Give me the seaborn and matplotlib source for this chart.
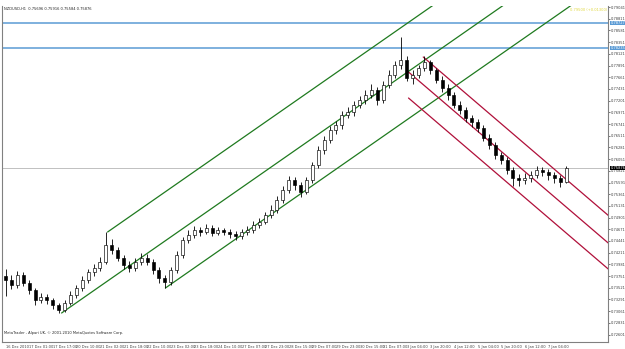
import numpy as np
import pandas as pd
import matplotlib
matplotlib.use("Agg")
import matplotlib.pyplot as plt
import seaborn as sns

# ---- data (H4 bars, NZDUSD) ----
closes = [0.7368, 0.7358, 0.7377, 0.7362, 0.7348, 0.7328, 0.7334, 0.7328, 0.7318, 0.7309,
          0.7322, 0.7338, 0.7352, 0.7368, 0.7383, 0.7391, 0.7403, 0.7436, 0.7426, 0.7411,
          0.7397, 0.7391, 0.7403, 0.7411, 0.7403, 0.7387, 0.7371, 0.7364, 0.7387, 0.7417,
          0.7446, 0.7456, 0.7466, 0.7462, 0.7470, 0.7460, 0.7466, 0.7462, 0.7458, 0.7454,
          0.7462, 0.7466, 0.7476, 0.7482, 0.7495, 0.7505, 0.7525, 0.7544, 0.7564, 0.7554,
          0.7541, 0.7564, 0.7594, 0.7623, 0.7643, 0.7662, 0.7672, 0.7692, 0.7698, 0.7712,
          0.7721, 0.7731, 0.7741, 0.7721, 0.7751, 0.7771, 0.7790, 0.7800, 0.7765, 0.7771,
          0.7784, 0.7796, 0.7780, 0.7761, 0.7745, 0.7731, 0.7712, 0.7702, 0.7686, 0.7678,
          0.7666, 0.7647, 0.7633, 0.7613, 0.7603, 0.7584, 0.7568, 0.7564, 0.7568, 0.7574,
          0.7584, 0.7580, 0.7574, 0.7568, 0.7560, 0.75876]
highs = [0.7390, 0.7378, 0.7385, 0.7383, 0.7368, 0.7352, 0.7342, 0.7340, 0.7332, 0.7322,
         0.7328, 0.7345, 0.7358, 0.7375, 0.7390, 0.7398, 0.7412, 0.7462, 0.7448, 0.7432,
         0.7416, 0.7405, 0.7410, 0.7420, 0.7418, 0.7408, 0.7392, 0.7378, 0.7393, 0.7424,
         0.7452, 0.7465, 0.7474, 0.7472, 0.7478, 0.7475, 0.7472, 0.7470, 0.7468, 0.7463,
         0.7468, 0.7473, 0.7483, 0.7490, 0.7502, 0.7514, 0.7532, 0.7552, 0.7572, 0.7570,
         0.7560, 0.7570, 0.7600, 0.7630, 0.7650, 0.7670, 0.7680, 0.7700, 0.7708, 0.7720,
         0.7730, 0.7740, 0.7752, 0.7746, 0.7758, 0.7780, 0.7798, 0.7845, 0.7808, 0.7780,
         0.7790, 0.7808, 0.7800, 0.7785, 0.7768, 0.7752, 0.7738, 0.7720, 0.7708, 0.7692,
         0.7684, 0.7672, 0.7654, 0.7638, 0.7620, 0.7610, 0.7590, 0.7576, 0.7578, 0.7582,
         0.7592, 0.7590, 0.7586, 0.7580, 0.7574, 0.75916]
lows = [0.7335, 0.7350, 0.7352, 0.7355, 0.7340, 0.7318, 0.7322, 0.7320, 0.7310, 0.7303,
        0.7305, 0.7318, 0.7332, 0.7346, 0.7362, 0.7376, 0.7385, 0.7398, 0.7418, 0.7404,
        0.7390, 0.7383, 0.7385, 0.7396, 0.7396, 0.7380, 0.7362, 0.7352, 0.7358, 0.7382,
        0.7410, 0.7440, 0.7450, 0.7454, 0.7457, 0.7453, 0.7455, 0.7455, 0.7450, 0.7447,
        0.7449, 0.7456, 0.7460, 0.7470, 0.7477, 0.7490, 0.7500, 0.7518, 0.7538, 0.7545,
        0.7530, 0.7536, 0.7558, 0.7588, 0.7615, 0.7636, 0.7655, 0.7665, 0.7685, 0.7690,
        0.7705, 0.7714, 0.7725, 0.7712, 0.7716, 0.7744, 0.7765, 0.7782, 0.7758, 0.7752,
        0.7765, 0.7778, 0.7772, 0.7755, 0.7738, 0.7722, 0.7705, 0.7693, 0.7678, 0.7668,
        0.7658, 0.7640, 0.7625, 0.7605, 0.7595, 0.7576, 0.7552, 0.7553, 0.7556, 0.7560,
        0.7568, 0.7572, 0.7565, 0.7558, 0.7550, 0.75584]
first_open = 0.7375

time_labels = ["16 Dec 2010", "17 Dec 01:00", "17 Dec 17:00", "20 Dec 10:00", "21 Dec 02:00",
               "21 Dec 18:00", "22 Dec 10:00", "23 Dec 02:00", "23 Dec 18:00", "24 Dec 10:00",
               "27 Dec 07:00", "27 Dec 23:00", "28 Dec 15:00", "29 Dec 07:00", "29 Dec 23:00",
               "30 Dec 15:00", "31 Dec 07:00", "3 Jan 04:00", "3 Jan 20:00", "4 Jan 12:00",
               "5 Jan 04:00", "5 Jan 20:00", "6 Jan 12:00", "7 Jan 04:00"]
bars_per_label = 4

# horizontal levels
blue_levels = [0.78727, 0.78235]
last_price = 0.75876

# channel lines: start bar, start price, slope per bar
green_start_bar = [17.3, 9.5, 27.1]
green_start_price = [0.74618, 0.73025, 0.73517]
green_slope = 0.000808
red_start_bar = [70.8, 68.3, 68.3]
red_start_price = [0.78058, 0.77763, 0.77252]
red_slope = -0.000993

title = "NZDUSD,H1  0.75696 0.75916 0.75584 0.75876"
footer = "MetaTrader - Alpari UK, \u00a9 2001-2010 MetaQuotes Software Corp."

# ---- frame ----
df = pd.DataFrame({"bar": np.arange(len(closes)), "close": closes, "high": highs, "low": lows})
df["open"] = [first_open] + closes[:-1]

sns.set_style("white")
plt.rcParams["font.family"] = ["DejaVu Sans"]

W, H = 625, 349
fig = plt.figure(figsize=(W / 100, H / 100), dpi=100)
ax = fig.add_axes([2 / W, (H - 342) / H, 606 / W, 336 / H])

x_lo, x_hi = -0.6, -0.6 + 606 / 5.9
y_top, y_bot = 0.79179 - 0.0001966 * 6, 0.79179 - 0.0001966 * 342
ax.set_xlim(x_lo, x_hi)
ax.set_ylim(y_bot, y_top)

# levels
for lv in blue_levels:
    ax.axhline(lv, color="#5b9bd5", lw=1.1, zorder=1)
ax.axhline(last_price, color="#c0c0c0", lw=0.7, zorder=1)

# channels via seaborn
rows = []
for name, sb, sp, sl in [("g", green_start_bar, green_start_price, green_slope),
                         ("r", red_start_bar, red_start_price, red_slope)]:
    for k, (b, p) in enumerate(zip(sb, sp)):
        rows.append({"line": f"{name}{k}", "bar": b, "price": p})
        rows.append({"line": f"{name}{k}", "bar": x_hi + 2, "price": p + sl * (x_hi + 2 - b)})
lines = pd.DataFrame(rows)
pal = {l: ("#1f7a1f" if l.startswith("g") else "#b0103a") for l in lines["line"].unique()}
sns.lineplot(data=lines, x="bar", y="price", hue="line", palette=pal, lw=0.9,
             legend=False, ax=ax, zorder=2, sort=False, estimator=None)

# candles
up = df["close"] >= df["open"]
ax.vlines(df["bar"], df["low"], df["high"], color="black", lw=0.6, zorder=3)
body_w = 0.5
ax.bar(df["bar"][up], (df["close"] - df["open"])[up], bottom=df["open"][up], width=body_w,
       color="white", edgecolor="black", linewidth=0.45, zorder=4)
ax.bar(df["bar"][~up], (df["open"] - df["close"])[~up], bottom=df["close"][~up], width=body_w,
       color="black", edgecolor="black", linewidth=0.45, zorder=4)

# axes styling
ax.spines["top"].set_visible(False)
for s in ["left", "right", "bottom"]:
    ax.spines[s].set_color("#808080")
    ax.spines[s].set_linewidth(0.8)

fs = 2.6
yt = np.round(0.79041 - 0.0023 * np.arange(29), 5)
ax.yaxis.tick_right()
ax.set_yticks(yt)
ax.set_yticklabels([f"{v:.5f}" for v in yt])
ax.tick_params(axis="y", labelsize=fs, length=1.5, width=0.5, pad=0.8, colors="#404040")

xt = np.arange(len(time_labels)) * bars_per_label
ax.set_xticks(xt)
ax.set_xticklabels(time_labels, ha="left")
ax.tick_params(axis="x", labelsize=fs, length=1.5, width=0.5, pad=0.8, colors="#404040")
ax.set_xlabel("")
ax.set_ylabel("")

# price boxes on right axis
for lv in blue_levels:
    ax.text(1.004, lv, f"{lv:.5f}", transform=ax.get_yaxis_transform(), fontsize=fs,
            color="white", va="center", ha="left",
            bbox=dict(boxstyle="square,pad=0.12", fc="#5b9bd5", ec="none"))
ax.text(1.004, last_price, f"{last_price:.5f}", transform=ax.get_yaxis_transform(), fontsize=fs,
        color="white", va="center", ha="left",
        bbox=dict(boxstyle="square,pad=0.12", fc="black", ec="none"))

ax.text(0.003, 0.998, title, transform=ax.transAxes, fontsize=fs, va="top", ha="left")
ax.text(0.003, 0.022, footer, transform=ax.transAxes, fontsize=fs, va="bottom", ha="left")
ax.text(0.998, 0.995, "0.79500 (+0.01300)", transform=ax.transAxes, fontsize=fs,
        va="top", ha="right", color="#e0d840")

fig.savefig("out.png", dpi=100)
